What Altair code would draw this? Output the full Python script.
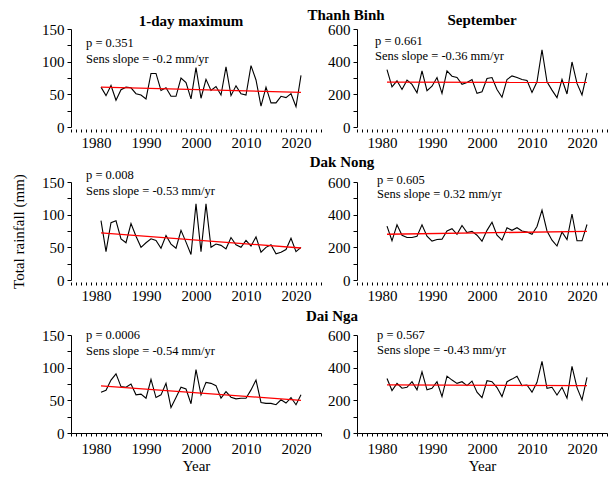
import altair as alt
import pandas as pd

years = list(range(1981, 2022))

tb_max = [61, 48, 63.5, 41, 57, 61, 60, 51, 49, 43, 82, 82, 56, 60, 47, 47, 75, 68, 43, 91,
          44, 73, 56, 62, 49, 92, 48, 63, 51, 49, 94, 72, 32, 61, 37, 37, 47, 45, 51, 31, 79]
tb_sep = [351, 246, 283, 230, 287, 261, 210, 343, 222, 250, 303, 206, 343, 311, 303, 261, 273, 291, 206, 216,
          297, 303, 230, 182, 291, 313, 303, 291, 285, 212, 277, 473, 277, 226, 180, 291, 202, 398, 267, 196, 331]
dn_max = [91, 43.5, 87.6, 90.7, 63, 57, 86.5, 67, 50, 57, 63, 60.6, 48.7, 68, 55, 48.7, 76, 58, 39, 116.6,
          43.5, 116.6, 50, 55, 53, 47.7, 65, 54, 50, 60.6, 52, 66, 42.5, 50, 54, 40, 42.5, 46.6, 64, 43.5, 50]
dn_sep = [330, 240, 338, 274, 260, 260, 268, 338, 268, 238, 248, 250, 300, 314, 280, 334, 290, 298, 274, 238,
          304, 354, 274, 244, 320, 304, 320, 300, 294, 280, 328, 428, 300, 244, 208, 294, 248, 404, 240, 240, 340]
dg_max = [62.4, 65.4, 81, 90.6, 71, 70, 75, 58.4, 59.4, 53.3, 82, 54.3, 58.4, 76, 39, 54.3, 70, 67.4, 44.8, 97,
          58.4, 77.5, 76, 72.5, 53.3, 63.4, 54.8, 52.3, 53.3, 53.3, 66, 81, 46.8, 45.3, 45.3, 43.3, 50.8, 45.8, 54.3, 43.3, 58.4]
dg_sep = [334, 260, 304, 274, 280, 314, 264, 374, 264, 274, 314, 223, 348, 324, 304, 314, 290, 318, 250, 217,
          320, 314, 278, 223, 314, 330, 348, 290, 294, 250, 310, 439, 274, 280, 233, 280, 213, 408, 278, 203, 340]

trend_years = [1981, 2021]
tb_max_trend = [61, 53]
tb_sep_trend = [275, 273]
dn_max_trend = [72, 49]
dn_sep_trend = [280, 298]
dg_max_trend = [72, 50]
dg_sep_trend = [295, 290]

p_texts = ["p = 0.351", "p = 0.661", "p = 0.008", "p = 0.605", "p = 0.0006", "p = 0.567"]
s_texts = ["Sens slope = -0.2 mm/yr", "Sens slope = -0.36 mm/yr", "Sens slope = -0.53 mm/yr",
           "Sens slope = 0.32 mm/yr", "Sens slope = -0.54 mm/yr", "Sens slope = -0.43 mm/yr"]
stations = ["Thanh Binh", "Dak Nong", "Dai Nga"]
columns_t = ["1-day maximum", "September"]

FONT = "Liberation Serif"
W, H = 250, 98


def text_layer(s, x, y, size=12.5, weight="normal", align="left"):
    return alt.Chart(pd.DataFrame({"t": [s]})).mark_text(
        align=align, baseline="middle", fontSize=size, font=FONT, fontWeight=weight, color="black"
    ).encode(text="t:N", x=alt.value(x), y=alt.value(y))


def panel(vals, trend, ymax, ystep, lstep, ptxt, stxt, pxy, sxy, bottom=False, ytitle=None, extras=()):
    df = pd.DataFrame({"Year": years, "Rain": vals})
    tdf = pd.DataFrame({"Year": trend_years, "Rain": trend})
    xaxis = alt.Axis(
        values=list(range(1975, 2026)),
        tickCount=200,
        labelExpr="datum.value % 10 == 0 ? '' + datum.value : ''",
        title="Year" if bottom else None,
        domain=bottom,
        tickSize=3,
        offset=0 if bottom else 2,
        labelPadding=5 if bottom else 3,
        titlePadding=2,
        grid=False,
        labelOverlap=False,
        labelFlush=False,
    )
    yaxis = alt.Axis(
        values=list(range(0, ymax + 1, ystep)),
        tickCount=200,
        labelExpr=f"datum.value % {lstep} == 0 ? '' + datum.value : ''",
        title=ytitle,
        tickSize=4,
        labelPadding=3,
        titlePadding=15,
        grid=False,
        labelOverlap=False,
    )
    x = alt.X("Year:Q", scale=alt.Scale(domain=[1975, 2025], nice=False, zero=False), axis=xaxis)
    y = alt.Y("Rain:Q", scale=alt.Scale(domain=[0, ymax], nice=False), axis=yaxis)
    line = alt.Chart(df).mark_line(color="black", strokeWidth=1.1).encode(x=x, y=y)
    tl = alt.Chart(tdf).mark_line(color="#ff0000", strokeWidth=1.3).encode(x="Year:Q", y="Rain:Q")
    layers = [line, tl, text_layer(ptxt, *pxy), text_layer(stxt, *sxy)]
    for e in extras:
        layers.append(e)
    return alt.layer(*layers).properties(width=W, height=H)


p1 = panel(tb_max, tb_max_trend, 150, 25, 50, p_texts[0], s_texts[0], (15, 14), (15, 30),
           extras=[text_layer(columns_t[0], 120, -8, 15, "bold", "center")])
p2 = panel(tb_sep, tb_sep_trend, 600, 100, 200, p_texts[1], s_texts[1], (18, 12), (18, 27),
           extras=[text_layer(columns_t[1], W / 2, -9, 15, "bold", "center"),
                   text_layer(stations[0], -11, -14, 15, "bold", "center")])
p3 = panel(dn_max, dn_max_trend, 150, 25, 50, p_texts[2], s_texts[2], (15, -7), (15, 9),
           ytitle="Total rainfall (mm)")
p4 = panel(dn_sep, dn_sep_trend, 600, 100, 200, p_texts[3], s_texts[3], (20, -2), (20, 12),
           extras=[text_layer(stations[1], -15, -20, 15, "bold", "center")])
p5 = panel(dg_max, dg_max_trend, 150, 25, 50, p_texts[4], s_texts[4], (15, 0), (15, 16), bottom=True)
p6 = panel(dg_sep, dg_sep_trend, 600, 100, 200, p_texts[5], s_texts[5], (20, 0), (20, 15), bottom=True,
           extras=[text_layer(stations[2], -25, -19, 15, "bold", "center")])

chart = alt.concat(
    p1, p2, p3, p4, p5, p6, columns=2, spacing={"row": 55, "column": 36}, bounds="flush",
    padding={"left": 11, "top": 7, "right": 0, "bottom": 0},
).configure_axis(
    labelFont=FONT, labelFontSize=15, titleFont=FONT, titleFontSize=15, titleFontWeight="normal",
    labelColor="black", titleColor="black", domainColor="black", tickColor="black",
).configure_view(stroke="transparent")

chart.save("out.html", embed_options={"renderer": "svg", "actions": False})
